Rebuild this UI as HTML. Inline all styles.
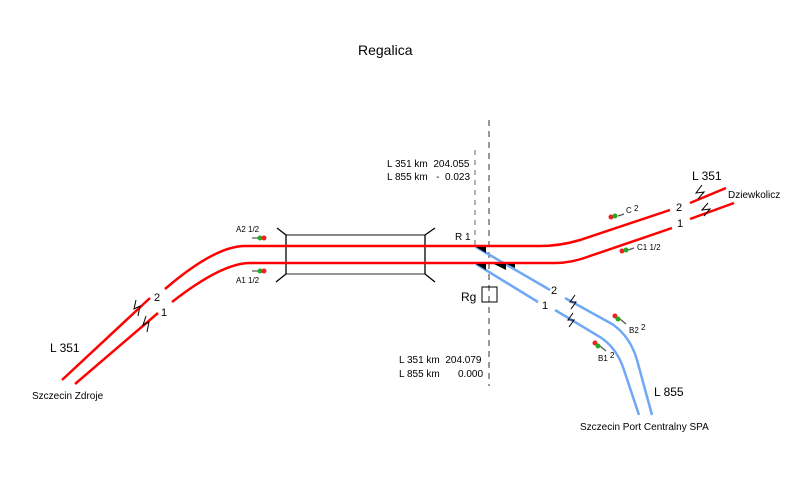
<!DOCTYPE html>
<html><head><meta charset="utf-8"><style>body{margin:0;background:#fff}svg{display:block}text{font-family:"Liberation Sans",sans-serif;fill:#000;white-space:pre}</style></head><body>
<svg width="787" height="483" viewBox="0 0 787 483" xmlns="http://www.w3.org/2000/svg" xml:space="preserve">
<rect width="787" height="483" fill="#fff"/>
<text x="358" y="55" font-size="14">Regalica</text>
<line x1="489" y1="120" x2="489" y2="386" stroke="#999" stroke-width="2" stroke-dasharray="6,5"/>
<line x1="475" y1="150" x2="475" y2="246" stroke="#999" stroke-width="1.5" stroke-dasharray="5,5"/>
<g stroke-width="1.3" fill="none">
<line x1="286" y1="235" x2="425" y2="235" stroke="#777" stroke-width="1.8"/>
<line x1="286" y1="274" x2="425" y2="274" stroke="#555"/>
<line x1="286" y1="235" x2="286" y2="274" stroke="#000"/>
<line x1="425" y1="235" x2="425" y2="274" stroke="#000"/>
<path d="M286 235 L277 228 M425 235 L435 228 M286 274 L276 282 M425 274 L435 282" stroke="#000"/>
</g>
<g stroke="#6fa8f5" stroke-width="2.5" fill="none">
<path d="M476 247 L550 290"/>
<path d="M565 298 L612 324 Q630 336 637 360 L652 415"/>
<path d="M476 264 L538 302"/>
<path d="M555 310 L600 337 Q617 348 624 370 L639 415"/>
</g>
<g stroke="#ff0000" stroke-width="2.5" fill="none">
<path d="M62 380 L150 298"/>
<path d="M165 289 Q215 246 245 246 L540 246 Q560 246 580 240 L670 210"/>
<path d="M690 203 L726 188"/>
<path d="M75 384 L158 313"/>
<path d="M172 302 Q222 263 250 263 L555 263 Q572 263 590 256 L672 228"/>
<path d="M690 219 L734 203"/>
</g>
<g fill="#000">
<polygon points="476,247 486,247 486,253"/>
<polygon points="476,264 486,264 486,270"/>
<polygon points="494,264 506,264 506,270"/>
<polygon points="507,264 515,264 515,268"/>
</g>
<rect x="482" y="287" width="15" height="15" fill="none" stroke="#000" stroke-width="1"/>
<text x="461" y="301" font-size="12">Rg</text>
<text x="455" y="240" font-size="10">R 1</text>
<text x="387" y="167" font-size="10">L 351 km  204.055</text>
<text x="387" y="180" font-size="10">L 855 km   -  0.023</text>
<text x="399" y="363" font-size="10">L 351 km  204.079</text>
<text x="399" y="377" font-size="10">L 855 km</text>
<text x="458" y="377" font-size="10">0.000</text>
<g font-size="11">
<text x="154" y="301">2</text><text x="161" y="316">1</text>
<text x="676" y="211">2</text><text x="677" y="227">1</text>
<text x="551" y="294">2</text><text x="542" y="309">1</text>
</g>
<text x="50" y="352" font-size="12">L 351</text>
<text x="692" y="180" font-size="12">L 351</text>
<text x="654" y="396" font-size="12">L 855</text>
<text x="32" y="399" font-size="10">Szczecin Zdroje</text>
<text x="728" y="198" font-size="10">Dziewkolicz</text>
<text x="580" y="430" font-size="10">Szczecin Port Centralny SPA</text>
<g>
<line x1="252" y1="238" x2="258" y2="238" stroke="#555" stroke-width="1.2"/>
<circle cx="260" cy="238" r="2.5" fill="#2a2"/><circle cx="264" cy="238" r="2.5" fill="#e22"/>
<line x1="252" y1="271" x2="258" y2="271" stroke="#555" stroke-width="1.2"/>
<circle cx="260" cy="271" r="2.5" fill="#2a2"/><circle cx="264" cy="271" r="2.5" fill="#e22"/>
<line x1="624" y1="214" x2="618" y2="216" stroke="#555" stroke-width="1.2"/>
<circle cx="611" cy="217" r="2.5" fill="#e22"/><circle cx="615" cy="216" r="2.5" fill="#2a2"/>
<line x1="634" y1="248" x2="628" y2="250" stroke="#555" stroke-width="1.2"/>
<circle cx="622" cy="251" r="2.5" fill="#e22"/><circle cx="626" cy="250" r="2.5" fill="#2a2"/>
<line x1="620" y1="319" x2="626" y2="324" stroke="#555" stroke-width="1.2"/>
<circle cx="615" cy="316" r="2.5" fill="#e22"/><circle cx="618" cy="319" r="2.5" fill="#2a2"/>
<line x1="600" y1="346" x2="606" y2="351" stroke="#555" stroke-width="1.2"/>
<circle cx="595" cy="343" r="2.5" fill="#e22"/><circle cx="598" cy="346" r="2.5" fill="#2a2"/>
</g>
<g font-size="8">
<text x="236" y="232">A2 1/2</text>
<text x="236" y="283">A1 1/2</text>
<text x="626" y="213">C <tspan dy="-2">2</tspan></text>
<text x="637" y="250">C1 1/2</text>
<text x="629" y="333">B2 <tspan dy="-3">2</tspan></text>
<text x="598" y="361">B1 <tspan dy="-3">2</tspan></text>
</g>
<g stroke="#000" stroke-width="1" fill="none">
<path d="M136 300 L134 309 L140 306 L138 316"/>
<path d="M146 316 L143 325 L149 322 L147 332"/>
<path d="M702 185 L696 193 L704 192 L698 199"/>
<path d="M708 203 L702 210 L710 209 L704 216"/>
<path d="M575 295 L570 302 L576 302 L571 309"/>
<path d="M573 313 L568 320 L574 320 L569 327"/>
</g>
</svg>
</body></html>
